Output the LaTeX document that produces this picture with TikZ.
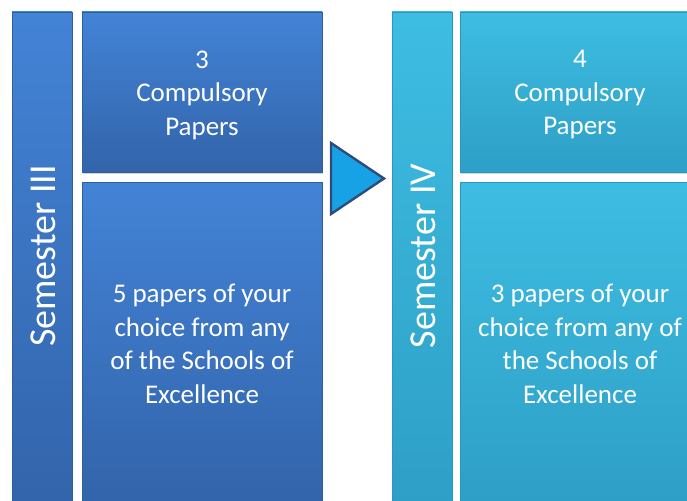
\documentclass[tikz,border=0pt]{standalone}
\usepackage{fontspec}
\setmainfont{Carlito}
\usetikzlibrary{shadows}
\definecolor{blueT}{HTML}{4383D6}
\definecolor{blueB}{HTML}{3264AA}
\definecolor{blueE}{HTML}{2F5E9E}
\definecolor{cyanT}{HTML}{3EBDE2}
\definecolor{cyanB}{HTML}{2E9FC6}
\definecolor{cyanE}{HTML}{2A97BC}
\definecolor{arrowF}{HTML}{17A2E6}
\definecolor{arrowE}{HTML}{2D4C7C}
\begin{document}
\begin{tikzpicture}[x=1pt,y=-1pt,
  blk/.style={draw, line width=0.6pt, inner sep=0pt,
    drop shadow={shadow xshift=1.2pt, shadow yshift=-1.8pt, opacity=0.35}},
  blueblk/.style={blk, draw=blueE, top color=blueT, bottom color=blueB},
  cyanblk/.style={blk, draw=cyanE, top color=cyanT, bottom color=cyanB},
  bodytext/.style={text=white, align=center, inner sep=0pt, font=\fontsize{27}{33.5}\selectfont},
  semtext/.style={text=white, rotate=90, font=\fontsize{38}{40}\selectfont}]
\useasboundingbox (0,0) rectangle (687,500);
\clip (0,0) rectangle (687,500);
% left column
\node[blueblk, minimum width=60pt, minimum height=498pt] (s3) at (42,261) {};
\node[semtext] (s3t) at (43,256) {Semester III};
\node[blueblk, minimum width=240pt, minimum height=160pt] (c3) at (202,92) {};
\node[bodytext] (c3t) at (202,95) {3\\Compulsory\\Papers};
\node[blueblk, minimum width=240pt, minimum height=322pt] (e3) at (202,343) {};
\node[bodytext] (e3t) at (202,344) {5 papers of your\\choice from any\\of the Schools of\\Excellence};
% arrow
\coordinate (a1) at (331,143);
\coordinate (a2) at (384,178.5);
\coordinate (a3) at (331,214);
\draw[fill=arrowF, draw=arrowE, line width=2.4pt, line join=miter] (a1) -- (a2) -- (a3) -- cycle;
% right column
\node[cyanblk, minimum width=60pt, minimum height=498pt] (s4) at (422,261) {};
\node[semtext] (s4t) at (423,256) {Semester IV};
\node[cyanblk, minimum width=240pt, minimum height=160pt] (c4) at (580,92) {};
\node[bodytext] (c4t) at (580,95) {4\\Compulsory\\Papers};
\node[cyanblk, minimum width=240pt, minimum height=322pt] (e4) at (580,343) {};
\node[bodytext] (e4t) at (580,344) {3 papers of your\\choice from any of\\the Schools of\\Excellence};
\end{tikzpicture}
\end{document}
